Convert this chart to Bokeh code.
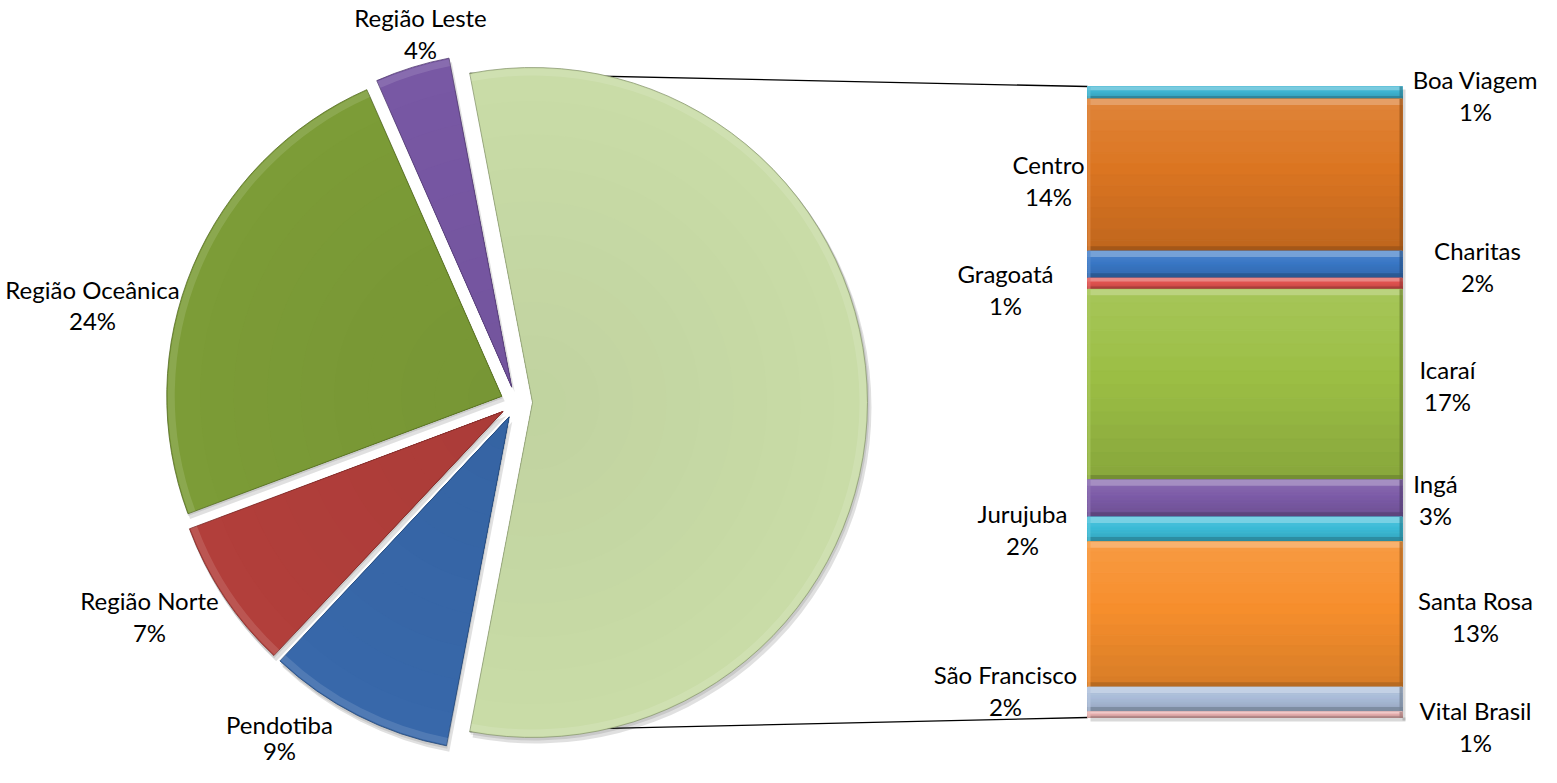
import math
from bokeh.plotting import figure
from bokeh.models import Range1d
from bokeh.core.properties import value
from bokeh.embed import file_html
from bokeh.resources import INLINE

# ---------------- data ----------------
pie_labels = ["Região Leste", "Região Oceânica", "Região Norte", "Pendotiba"]
pie_values = [3.6, 24.1, 7.3, 9.0]
pie_colors = ["#7858a4", "#7c9c37", "#b23f3b", "#3868aa"]
other_color = "#c9dca7"

bar_labels = ["Boa Viagem", "Centro", "Charitas", "Gragoatá", "Icaraí", "Ingá",
              "Jurujuba", "Santa Rosa", "São Francisco", "Vital Brasil"]
bar_values = [1.1, 13.5, 2.4, 1.0, 16.9, 3.3, 2.2, 12.9, 2.2, 0.5]
bar_colors = ["#3fb5d2", "#dc7622", "#3a78c6", "#e0524f", "#9cbf45", "#7d5ca8",
              "#3cbcd8", "#f78f2d", "#aabdd9", "#e8b1b0"]

# ---------------- layout (pixel-like data space, y up) ----------------
W, H = 1541, 767
def Y(img_y):
    return 783 - img_y

CX, CY = 524, Y(410)
R = 335
EXPL = 16
BX0, BX1 = 1095, 1410
BTOP, BBOT = Y(94), Y(725)

pie_label_pos = [(428, 25), (100, 297), (157, 608), (287, 732)]
pie_label_gap = [32, 31, 32, 26]
bar_label_pos = [(1483, 87), (1056, 172), (1485, 258), (1013, 281), (1455, 377),
                 (1443, 491), (1030, 521), (1483, 608), (1013, 682), (1483, 718)]
LINE_GAP = 32
FONT = "Lato"
FSIZE = "24px"


def hex2rgb(c):
    c = c.lstrip("#")
    return [int(c[i:i + 2], 16) for i in (0, 2, 4)]


def shade(c, t):
    r = hex2rgb(c)
    if t >= 0:
        r = [int(v + (255 - v) * t) for v in r]
    else:
        r = [int(v * (1 + t)) for v in r]
    return "#%02x%02x%02x" % tuple(r)


p = figure(width=W, height=H, x_range=Range1d(8, 8 + W), y_range=Range1d(8, 8 + H),
           output_backend="svg", toolbar_location=None, min_border=0,
           background_fill_color="white", border_fill_color="white")
p.axis.visible = False
p.grid.visible = False
p.outline_line_color = None

total = sum(pie_values) + sum(bar_values)
other = sum(bar_values)
half = other / total * math.pi

# other slice geometry
ocx, ocy = CX + EXPL, CY
top_corner = (ocx + R * math.cos(half), ocy + R * math.sin(half))
bot_corner = (ocx + R * math.cos(-half), ocy + R * math.sin(-half))

# connector lines (drawn below the pie)
p.line([top_corner[0], BX0], [top_corner[1], BTOP], line_color="black", line_width=1.3)
p.line([bot_corner[0], BX0], [bot_corner[1], BBOT], line_color="black", line_width=1.3)

# pie slice geometry
xs, ys, ss, es = [], [], [], []
a = half
for v in pie_values:
    s = a
    e = a + v / total * 2 * math.pi
    mid = (s + e) / 2
    xs.append(CX + EXPL * math.cos(mid))
    ys.append(CY + EXPL * math.sin(mid))
    ss.append(s)
    es.append(e)
    a = e

all_x = xs + [ocx]
all_y = ys + [ocy]
all_s = ss + [-half]
all_e = es + [half]
all_c = pie_colors + [other_color]

# shadows
p.wedge(x=[x + 3 for x in all_x], y=[y - 5 for y in all_y], radius=R + 1,
        start_angle=all_s, end_angle=all_e, fill_color="#000000", fill_alpha=0.12,
        line_color=None)
p.wedge(x=[x + 1 for x in all_x], y=[y - 2 for y in all_y], radius=R + 1,
        start_angle=all_s, end_angle=all_e, fill_color="#000000", fill_alpha=0.10,
        line_color=None)

# slices with radial shading bands (slightly darker towards the apex)
bands = 10
for k in range(bands):
    r_out = R * (1 - k / bands)
    p.wedge(x=all_x, y=all_y, radius=r_out, start_angle=all_s, end_angle=all_e,
            fill_color=[shade(c, -0.04 * (k / bands)) for c in all_c],
            line_color=None)
# outline
p.wedge(x=all_x, y=all_y, radius=R, start_angle=all_s, end_angle=all_e,
        fill_color=None, line_color=[shade(c, -0.3) for c in all_c],
        line_width=1, line_alpha=0.8)
# light rim
p.annular_wedge(x=all_x, y=all_y, inner_radius=R - 8, outer_radius=R - 1,
                start_angle=all_s, end_angle=all_e, fill_color="white", fill_alpha=0.12,
                line_color=None)

# bar of pie: stacked segments with vertical gradient and bevel
scale = (BTOP - BBOT) / other
top = BTOP
steps = 14
for v, c in zip(bar_values, bar_colors):
    h = v * scale
    bottom = top - h
    lefts, rights, tops, bots, cols = [], [], [], [], []
    for i in range(steps):
        t0 = top - h * i / steps
        t1 = top - h * (i + 1) / steps
        lefts.append(BX0)
        rights.append(BX1)
        tops.append(t0)
        bots.append(t1)
        cols.append(shade(c, 0.10 - 0.22 * i / (steps - 1)))
    p.quad(left=lefts, right=rights, top=tops, bottom=bots, fill_color=cols,
           line_color=cols, line_width=1)
    bev = min(6, h * 0.3)
    p.quad(left=[BX0], right=[BX1], top=[top], bottom=[top - bev],
           fill_color=shade(c, 0.35), fill_alpha=0.85, line_color=None)
    p.quad(left=[BX0], right=[BX1], top=[bottom + bev * 0.8], bottom=[bottom],
           fill_color=shade(c, -0.3), fill_alpha=0.75, line_color=None)
    p.quad(left=[BX0], right=[BX0 + 3], top=[top], bottom=[bottom],
           fill_color=shade(c, 0.15), fill_alpha=0.7, line_color=None)
    p.quad(left=[BX1 - 3], right=[BX1], top=[top], bottom=[bottom],
           fill_color=shade(c, -0.3), fill_alpha=0.7, line_color=None)
    top = bottom

p.quad(left=[BX1], right=[BX1 + 3], top=[BTOP - 3], bottom=[BBOT - 3],
       fill_color="#000000", fill_alpha=0.15, line_color=None)
p.quad(left=[BX0 + 3], right=[BX1 + 3], top=[BBOT], bottom=[BBOT - 4],
       fill_color="#000000", fill_alpha=0.15, line_color=None)


def pct(v):
    return "%d%%" % int(math.floor(v + 0.5))


def labels(names, vals, pos, gaps):
    p.text(x=[q[0] for q in pos], y=[Y(q[1]) for q in pos], text=names,
           text_align="center", text_baseline="middle", text_color="black",
           text_font=value(FONT), text_font_size=FSIZE)
    p.text(x=[q[0] for q in pos], y=[Y(q[1] + g) for q, g in zip(pos, gaps)],
           text=[pct(v) for v in vals],
           text_align="center", text_baseline="middle", text_color="black",
           text_font=value(FONT), text_font_size=FSIZE)


labels(pie_labels, [v / total * 100 for v in pie_values], pie_label_pos, pie_label_gap)
labels(bar_labels, [v / total * 100 for v in bar_values], bar_label_pos,
       [LINE_GAP] * len(bar_labels))

open("out.html", "w").write(file_html(p, INLINE))
